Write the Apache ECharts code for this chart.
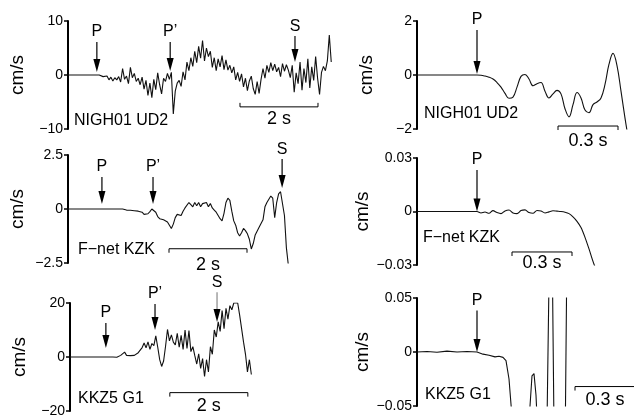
<!DOCTYPE html>
<html>
<head>
<meta charset="utf-8">
<title>Seismograms</title>
<script src="https://cdn.jsdelivr.net/npm/echarts@6/dist/echarts.min.js"></script>
<style>
  html, body { margin: 0; padding: 0; background: #fff; }
  #main { width: 634px; height: 419px; }
</style>
</head>
<body>
<div id="main"></div>
<script>
// sample spacing (s)
var DT_LEFT = 0.05;
var DT_RIGHT = 0.02;

// left column, long records
var nighLeft = [
  0, 0, 0, 0, 0, 0, 0, 0, 0, 0, 0, 0, 0, 0, 0, 0, 0,
  0.1, -0.3, -0.6, -0.2, -0.9, -0.4, -1.1, -0.5, -0.9, -0.3,
  -1.3, 1.2, -0.8, -0.2, -1.6, 1.4, -0.5, 0.3, -1.2, -0.6,
  -1.8, -0.4, -2.6, -1.0, -3.8, -1.5, -4.2, -0.8, -2.7, 0.4,
  -1.8, -3.5, -0.6, -1.2, 0.3, -0.8, 0.5, -7.2, -3.0, -1.5,
  -1.0, -2.1, 0.6, -0.9, 2.4, 0.8, 3.2, 1.6, 4.4, 2.3,
  5.3, 3.1, 6.4, 2.6, 5.0, 3.4, 4.4, 1.4, 3.2, 0.8,
  3.0, 1.5, 3.6, 1.0, 2.8, 0.9, 1.8, 0.4, 1.5, -0.9,
  0.5, -1.2, 0.2, -2.2, -0.6, -2.9, -1.1, -0.2, -2.5, -3.6,
  -1.2, -3.4, -0.8, 1.2, -0.6, 1.8, 0.5, 2.3, 0.8, 2.0,
  0.6, 1.4, -0.3, 2.1, 0.7, 1.9, 0.9, -0.5, 1.8, -3.2,
  0.4, -1.6, 2.4, -2.8, 1.2, -1.4, 3.0, -2.4, 1.5, -1.0,
  3.4, -0.6, -3.6, 0.5, 1.6, 0.8, 2.6, 7.4, 2.4
];
var kzkLeft = [
  0, 0, 0, 0, 0, 0, 0, 0, 0, 0, 0, 0, 0, 0, 0, 0, 0, 0, 0, 0, 0, 0, 0, 0, 0, 0, 0, 0, 0,
  -0.02, -0.05, -0.03, -0.06, -0.04, -0.08, -0.05,
  -0.1, -0.18, -0.15, -0.25, -0.3, -0.22, -0.12, 0.0, 0.05, -0.15,
  -0.35, -0.45, -0.4, -0.5, -0.45, -0.6, -0.75, -0.9, -0.7, -0.4,
  -0.25, -0.25, -0.3, -0.1, 0.05, 0.1, 0.3, 0.2, 0.1, 0.3,
  0.15, 0.3, 0.1, 0.25, 0.2, 0.3, 0.1, 0.25, 0.05, -0.05,
  -0.15, -0.3, -0.45, -0.55, -0.2, 0.3, 0.5, 0.4, -0.1, -0.55,
  -0.75, -1.1, -1.25, -1.1, -0.9, -1.0, -1.15, -1.4, -1.85, -1.6,
  -1.2, -1.15, -0.85, -0.8, -0.5, 0.1, 0.3, 0.45, 0.6, 0.5,
  -0.4, 0.3, 0.7, 0.8, 0.75, -0.3, -1.8, -2.6
];
var kkzLeft = [
  0, 0, 0, 0, 0, 0, 0, 0, 0, 0, 0, 0, 0, 0, 0, 0, 0, 0, 0, 0, 0, 0, 0,
  0.1, -0.1, 0.2, 0.6, 1.3, 1.8, 0.6, 0.2, 0.5, 0.8,
  0.6, 1.0, 1.6, 2.2, 3.5, 5.2, 3.4, 5.6, 2.8, 5.0,
  4.2, 7.8, 3.6, -1.0, -3.5, -1.5, 4.0, 10.2, 6.0, 8.2,
  5.5, 4.5, 8.8, 3.6, 8.0, 2.8, 10.0, 3.2, 9.8, 2.0,
  3.8, 0.5, -2.6, 1.2, -4.2, -0.6, -7.2, -1.0, -5.5, 3.8,
  1.0, 10.0, 7.4, 13.0, 9.5, 17.2, 10.5, 18.0, 14.0, 19.0,
  17.5, 20.0, 19.5, 20.0, 15.5, 15.0, 5.5, 1.0, -5.5, -1.0,
  -6.5
];

// right column, first second around P
var nighRight = [
  0, 0, 0, 0, 0, 0, 0, 0, 0, 0, 0, 0, 0, 0, 0,
  0.0, -0.01, -0.04, -0.08, -0.15, -0.28, -0.45, -0.68, -0.86, -0.82,
  -0.45, -0.05, 0.02, -0.15, -0.4, -0.32, -0.28, -0.6, -0.85, -0.7,
  -0.57, -0.7, -1.25, -1.55, -1.1, -0.65, -0.85, -1.3, -1.4, -1.1,
  -1.0, -0.85, -0.35, 0.4, 0.8, 0.35, -0.6, -1.6, -2.5
];
var kzkRight = [
  0, 0, 0, 0, 0, 0, 0, 0, 0, 0, 0, 0, 0, 0, 0, 0,
  -0.0008, -0.0003, -0.001, 0.0005, -0.0006, -0.0012, 0.0003, 0.0008, -0.0008, -0.0012,
  0.0005, 0.0009, -0.0006, -0.001, 0.0006, 0.0003, -0.0008, -0.0002, 0.0004, 0.0002,
  0.0, -0.0004, -0.0012, -0.003, -0.0055, -0.009, -0.0145, -0.021, -0.028, -0.034
];
var kkzRightTimes = [
  0, 0.05, 0.1, 0.15, 0.2, 0.25, 0.3, 0.33, 0.36, 0.39, 0.41, 0.43, 0.445, 0.46,
  0.475, 0.49, 0.55, 0.565, 0.575, 0.585, 0.595, 0.605, 0.64, 0.67, 0.695, 0.735, 0.76
];
var kkzRight = [
  0, 0.0005, -0.0003, 0.0008, 0, 0.0005, 0, -0.002, -0.003, -0.0045, -0.004, -0.005, -0.008, -0.025,
  -0.06, -0.12, -0.12, -0.05, -0.022, -0.02, -0.04, -0.08, -0.2, 0.2, -0.25, -0.2, 0.3
];

// phase picks: name, time, arrow top, arrow tip
var nighLeftPhases = ['P', 'P\u2019', 'S'];
var nighLeftPick = [0.74, 2.62, 5.82];
var nighLeftTop = [6.1, 6.1, 7.2];
var nighLeftTip = [0.55, 0.75, 2.4];
var kzkLeftPhases = ['P', 'P\u2019', 'S'];
var kzkLeftPick = [0.87, 2.18, 5.49];
var kzkLeftTop = [1.48, 1.48, 2.31];
var kzkLeftTip = [0.23, 0.23, 0.97];
var kkzLeftPhases = ['P', 'P\u2019', 'S'];
var kkzLeftPick = [0.92, 2.18, 3.77];
var kkzLeftTop = [12.6, 19.6, 24];
var kkzLeftTip = [3.3, 10, 13];
var rightPhases = ['P'];
var rightPick = [0.3];
var nighRightTop = [1.67], nighRightTip = [0.04];
var kzkRightTop = [0.0233], kzkRightTip = [0];
var kkzRightTop = [0.0385], kkzRightTip = [0];

var FONT = '"Liberation Sans", Arial, sans-serif';

function toPairs(vals, dt) {
  return vals.map(function (v, i) { return [+(i * dt).toFixed(3), v]; });
}

function tickFmt(v) {
  v = parseFloat(v.toFixed(4));
  if (v === 0) return '0';
  return v < 0 ? '\u2212' + String(-v) : String(v);
}

function arrowSeries(k, names, times, tops, tips, colors) {
  return {
    type: 'custom', xAxisIndex: k, yAxisIndex: k, silent: true, z: 5,
    data: times.map(function (t, i) { return [t, tops[i], tips[i]]; }),
    renderItem: function (params, api) {
      var a = api.coord([api.value(0), api.value(1)]);
      var b = api.coord([api.value(0), api.value(2)]);
      var c = (colors && colors[params.dataIndex]) || '#000';
      return {
        type: 'group',
        children: [
          { type: 'line', shape: { x1: a[0], y1: a[1], x2: b[0], y2: b[1] - 8 },
            style: { stroke: c, lineWidth: 1.2 } },
          { type: 'polygon', shape: { points: [[b[0] - 3.5, b[1] - 13], [b[0] + 3.5, b[1] - 13], [b[0], b[1]]] },
            style: { fill: '#000' } },
          { type: 'text', x: a[0], y: a[1] - 2,
            style: { text: names[params.dataIndex], align: 'center', verticalAlign: 'bottom',
                     fontSize: 16, fontFamily: FONT, fill: '#000' } }
        ]
      };
    }
  };
}

function scaleSeries(k, t0, v, len, label, dir, gap) {
  return {
    type: 'custom', xAxisIndex: k, yAxisIndex: k, silent: true, z: 5,
    data: [[t0, v, t0 + len]],
    renderItem: function (params, api) {
      var a = api.coord([api.value(0), api.value(1)]);
      var b = api.coord([api.value(2), api.value(1)]);
      var d = dir * 4;
      return {
        type: 'group',
        children: [
          { type: 'polyline', shape: { points: [[a[0], a[1] + d], [a[0], a[1]], [b[0], a[1]], [b[0], a[1] + d]] },
            style: { stroke: '#000', lineWidth: 1, fill: null } },
          { type: 'text', x: (a[0] + b[0]) / 2, y: a[1] + gap,
            style: { text: label, align: 'center', verticalAlign: 'middle',
                     fontSize: 18, fontFamily: FONT, fill: '#000' } }
        ]
      };
    }
  };
}

var panels = [
  { grid: { left: 68, top: 21, width: 273, height: 108 }, xmax: 7, lim: 10 },
  { grid: { left: 68, top: 155, width: 273, height: 108 }, xmax: 7, lim: 2.5 },
  { grid: { left: 70, top: 303, width: 273, height: 108 }, xmax: 7, lim: 20 },
  { grid: { left: 417, top: 21, width: 216, height: 108 }, xmax: 1.08, lim: 2 },
  { grid: { left: 417, top: 158, width: 216, height: 107 }, xmax: 1.08, lim: 0.03 },
  { grid: { left: 417, top: 298, width: 216, height: 108 }, xmax: 1.08, lim: 0.05 }
];

var traces = [
  { data: toPairs(nighLeft, DT_LEFT), smooth: false },
  { data: toPairs(kzkLeft, DT_LEFT), smooth: false },
  { data: toPairs(kkzLeft, DT_LEFT), smooth: false },
  { data: toPairs(nighRight, DT_RIGHT), smooth: 0.4 },
  { data: toPairs(kzkRight, DT_RIGHT), smooth: 0.3 },
  { data: kkzRightTimes.map(function (t, i) { return [t, kkzRight[i]]; }), smooth: false }
];

var grids = [], xAxes = [], yAxes = [], series = [];
panels.forEach(function (p, k) {
  grids.push(p.grid);
  xAxes.push({ type: 'value', gridIndex: k, min: 0, max: p.xmax, show: false });
  yAxes.push({
    type: 'value', gridIndex: k, min: -p.lim, max: p.lim, interval: p.lim,
    name: 'cm/s', nameLocation: 'middle', nameGap: 41,
    nameTextStyle: { fontSize: 19, fontFamily: FONT, color: '#000' },
    axisLine: { show: true, lineStyle: { color: '#000', width: 2 } },
    axisTick: { show: true, length: 4, lineStyle: { color: '#000', width: 1.5 } },
    splitLine: { show: false },
    axisLabel: { fontSize: 14, fontFamily: FONT, color: '#000', margin: 5, formatter: tickFmt }
  });
  series.push({
    type: 'line', xAxisIndex: k, yAxisIndex: k, data: traces[k].data,
    showSymbol: false, smooth: traces[k].smooth, clip: true, silent: true,
    lineStyle: { color: '#111', width: 1.1 }
  });
});

series.push(arrowSeries(0, nighLeftPhases, nighLeftPick, nighLeftTop, nighLeftTip));
series.push(arrowSeries(1, kzkLeftPhases, kzkLeftPick, kzkLeftTop, kzkLeftTip));
series.push(arrowSeries(2, kkzLeftPhases, kkzLeftPick, kkzLeftTop, kkzLeftTip, [null, null, '#888']));
series.push(arrowSeries(3, rightPhases, rightPick, nighRightTop, nighRightTip));
series.push(arrowSeries(4, rightPhases, rightPick, kzkRightTop, kzkRightTip));
series.push(arrowSeries(5, rightPhases, rightPick, kkzRightTop, kkzRightTip));

series.push(scaleSeries(0, 4.41, -5.9, 2, '2 s', -1, 12));
series.push(scaleSeries(1, 2.59, -1.84, 2, '2 s', 1, 16));
series.push(scaleSeries(2, 2.56, -13.2, 2, '2 s', 1, 13));
series.push(scaleSeries(3, 0.705, -1.89, 0.3, '0.3 s', 1, 15));
series.push(scaleSeries(4, 0.475, -0.0227, 0.3, '0.3 s', 1, 11));
series.push(scaleSeries(5, 0.79, -0.032, 0.3, '0.3 s', 1, 13));

function stationText(x, y, text) {
  return { type: 'text', x: x, y: y, z: 10,
    style: { text: text, fontSize: 16, fontFamily: FONT, fill: '#000', verticalAlign: 'middle' } };
}

var chart = echarts.init(document.getElementById('main'));
chart.setOption({
  animation: false,
  backgroundColor: '#fff',
  grid: grids,
  xAxis: xAxes,
  yAxis: yAxes,
  series: series,
  graphic: [
    stationText(74, 120.5, 'NIGH01 UD2'),
    stationText(78, 249.5, 'F\u2212net KZK'),
    stationText(78, 398.5, 'KKZ5 G1'),
    stationText(424, 113.5, 'NIGH01 UD2'),
    stationText(423, 237.5, 'F\u2212net KZK'),
    stationText(425, 394.5, 'KKZ5 G1')
  ]
});
</script>
</body>
</html>
